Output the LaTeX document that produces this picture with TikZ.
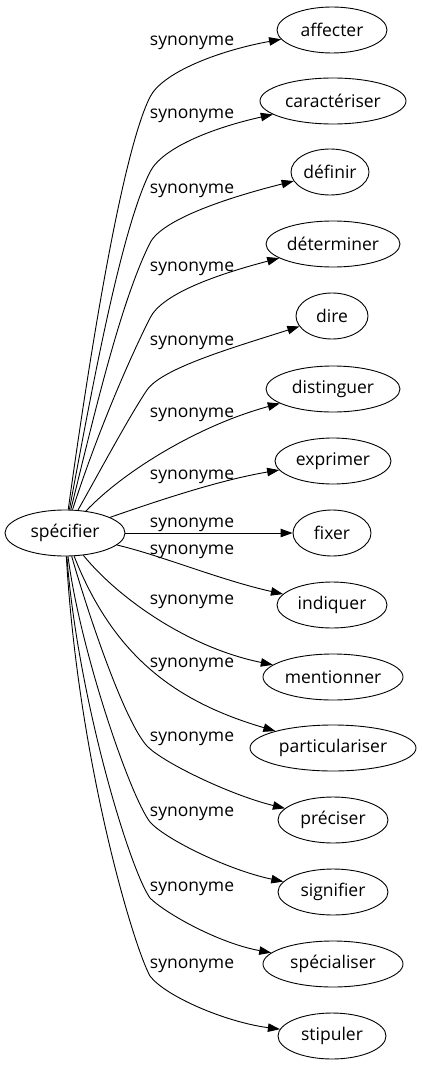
\documentclass[tikz,border=0pt]{standalone}
\usepackage{fontspec}
\setmainfont{Open Sans}
\usetikzlibrary{shapes.geometric,arrows.meta}
\begin{document}
\begin{tikzpicture}[x=1pt,y=-1pt,
  word/.style={draw, ellipse, line width=0.9pt, inner sep=0pt, minimum height=46pt, font=\fontsize{17.5}{21}\selectfont},
  rel/.style={font=\fontsize{17.5}{21}\selectfont, inner sep=0pt, anchor=base},
  edge/.style={draw, line width=0.9pt, -{Triangle[length=12pt,width=8.5pt]}}]
\useasboundingbox (0,0) rectangle (421,1067);
\node[word, minimum width=120pt] (src) at (65,533) {spécifier};
\node[word, minimum width=110pt] (t1) at (332,30) {affecter};
\node[word, minimum width=146pt] (t2) at (333,101) {caractériser};
\node[word, minimum width=78pt] (t3) at (330,172) {définir};
\node[word, minimum width=134pt] (t4) at (333,244) {déterminer};
\node[word, minimum width=72pt] (t5) at (332,316) {dire};
\node[word, minimum width=134pt] (t6) at (333,389) {distinguer};
\node[word, minimum width=116pt] (t7) at (333,461) {exprimer};
\node[word, minimum width=78pt] (t8) at (332,533) {fixer};
\node[word, minimum width=110pt] (t9) at (332,605) {indiquer};
\node[word, minimum width=140pt] (t10) at (333,677) {mentionner};
\node[word, minimum width=166pt] (t11) at (333,748) {particulariser};
\node[word, minimum width=110pt] (t12) at (333,820) {préciser};
\node[word, minimum width=110pt] (t13) at (333,892) {signifier};
\node[word, minimum width=140pt] (t14) at (333,964) {spécialiser};
\node[word, minimum width=108pt] (t15) at (332,1036) {stipuler};
\node[rel] (l1) at (192,45.5) {synonyme};
\node[rel] (l2) at (192,118.5) {synonyme};
\node[rel] (l3) at (192,193.5) {synonyme};
\node[rel] (l4) at (192,271.5) {synonyme};
\node[rel] (l5) at (192,345.5) {synonyme};
\node[rel] (l6) at (192,417.5) {synonyme};
\node[rel] (l7) at (192,479.5) {synonyme};
\node[rel] (l8) at (192,527.5) {synonyme};
\node[rel] (l9) at (192,554.5) {synonyme};
\node[rel] (l10) at (192,604.5) {synonyme};
\node[rel] (l11) at (192,667.5) {synonyme};
\node[rel] (l12) at (192,741.5) {synonyme};
\node[rel] (l13) at (192,816.5) {synonyme};
\node[rel] (l14) at (192,891.5) {synonyme};
\node[rel] (l15) at (192,968.5) {synonyme};
\coordinate (k1) at (150,97);
\coordinate (k2) at (150,172);
\coordinate (k3) at (150,243);
\coordinate (k4) at (150,318);
\coordinate (k5) at (147,390);
\coordinate (k12) at (147,746);
\coordinate (k13) at (150,822);
\coordinate (k14) at (150,898);
\coordinate (k15) at (150,976);
\draw[edge] (src) .. controls (86,381) and (120,157) .. (k1) .. controls (162,73) and (217,51) .. (t1);
\draw[edge] (src) .. controls (90,400) and (120,232) .. (k2) .. controls (162,148) and (212,128) .. (t2);
\draw[edge] (src) .. controls (93,420) and (120,303) .. (k3) .. controls (162,219) and (230,197) .. (t3);
\draw[edge] (src) .. controls (95,440) and (125,368) .. (k4) .. controls (162,294) and (215,275) .. (t4);
\draw[edge] (src) .. controls (95,480) and (130,415) .. (k5) .. controls (162,368) and (235,347) .. (t5);
\draw[edge] (src) .. controls (125,470) and (200,425) .. (t6);
\draw[edge] (src) .. controls (160,500) and (220,480) .. (t7);
\draw[edge] (src) -- (t8);
\draw[edge] (src) .. controls (160,555) and (220,580) .. (t9);
\draw[edge] (src) .. controls (120,600) and (190,648) .. (t10);
\draw[edge] (src) .. controls (115,660) and (180,703) .. (t11);
\draw[edge] (src) .. controls (90,620) and (125,722) .. (k12) .. controls (162,762) and (230,795) .. (t12);
\draw[edge] (src) .. controls (80,650) and (130,796) .. (k13) .. controls (165,839) and (228,870) .. (t13);
\draw[edge] (src) .. controls (78,700) and (130,870) .. (k14) .. controls (165,913) and (218,943) .. (t14);
\draw[edge] (src) .. controls (78,760) and (133,945) .. (k15) .. controls (165,996) and (225,1022) .. (t15);
\end{tikzpicture}
\end{document}
